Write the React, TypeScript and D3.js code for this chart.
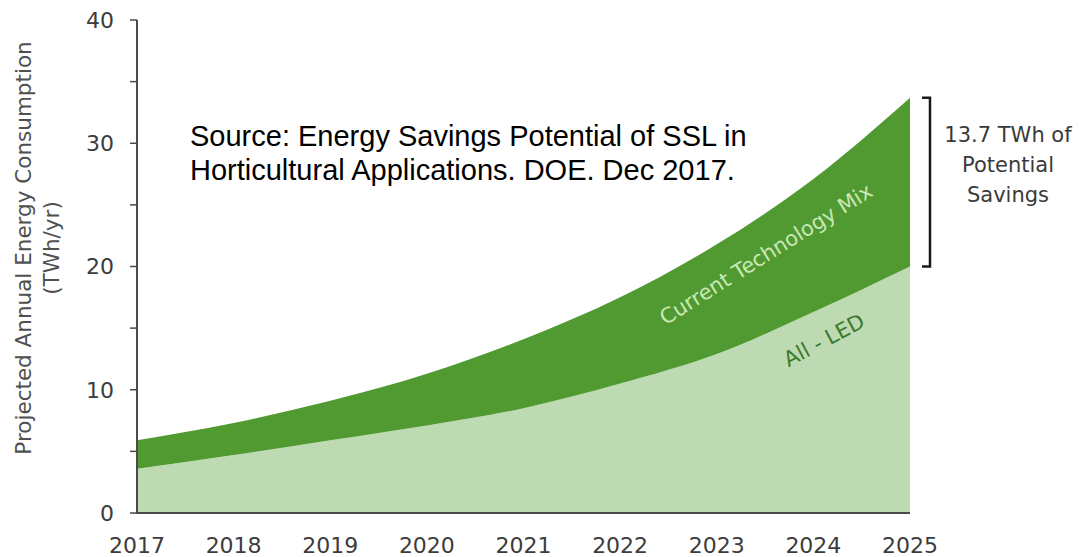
import React from 'react';
import * as d3 from 'd3';

// values (TWh/yr)
const years = [2017, 2018, 2019, 2020, 2021, 2022, 2023, 2024, 2025];
const currentMix = [5.9, 7.3, 9.1, 11.3, 14.1, 17.5, 21.8, 27.1, 33.7];
const allLed = [3.6, 4.7, 5.9, 7.1, 8.5, 10.5, 12.9, 16.3, 20.0];
const yTicks = [0, 10, 20, 30, 40];
const yMinorTicks = [5, 15, 25, 35];
const savingsLines = ['13.7 TWh of', 'Potential', 'Savings'];
const sourceLines = [
  'Source: Energy Savings Potential of SSL in',
  'Horticultural Applications. DOE. Dec 2017.',
];

const W = 1079;
const H = 557;
const tickFont = '"DejaVu Sans", sans-serif';

const App: React.FC = () => {
  const x = d3.scaleLinear().domain([2017, 2025]).range([137, 910]);
  const y = d3.scaleLinear().domain([0, 40]).range([513, 20]);

  const rows = years.map((yr, i) => ({ yr, top: currentMix[i], low: allLed[i] }));

  const ledArea = d3.area<typeof rows[0]>()
    .x(d => x(d.yr))
    .y0(y(0))
    .y1(d => y(d.low))
    .curve(d3.curveMonotoneX);

  const mixArea = d3.area<typeof rows[0]>()
    .x(d => x(d.yr))
    .y0(d => y(d.low))
    .y1(d => y(d.top))
    .curve(d3.curveMonotoneX);

  const last = rows[rows.length - 1];
  const bx = x(2025) + 20;

  return (
    <svg width={W} height={H} style={{ position: 'absolute', left: 0, top: 0, background: '#fff' }}>
      <path d={ledArea(rows) || ''} fill="#bddab3" />
      <path d={mixArea(rows) || ''} fill="#509a31" />

      {/* y axis */}
      <line x1={x(2017)} x2={x(2017)} y1={y(0)} y2={y(40)} stroke="#4a4a4a" strokeWidth={2} />
      {yTicks.concat(yMinorTicks).map(t => (
        <line key={'t' + t} x1={x(2017) - 7} x2={x(2017)} y1={y(t)} y2={y(t)} stroke="#4a4a4a" strokeWidth={1.5} />
      ))}
      {yTicks.map(t => (
        <text key={'l' + t} x={x(2017) - 23} y={y(t)} dy="0.36em" textAnchor="end"
          fontFamily={tickFont} fontSize={22} fill="#3c3c3c">{t}</text>
      ))}

      {/* x axis */}
      <line x1={x(2017) - 1} x2={x(2025)} y1={y(0)} y2={y(0)} stroke="#4a4a4a" strokeWidth={2} />
      {years.map(yr => (
        <text key={yr} x={x(yr)} y={553} textAnchor="middle"
          fontFamily={tickFont} fontSize={22} fill="#3c3c3c">{yr}</text>
      ))}

      {/* y axis title */}
      <g transform={`translate(31, 248) rotate(-90)`}>
        <text textAnchor="middle" fontFamily={tickFont} fontSize={21.5} fill="#505050">
          Projected Annual Energy Consumption
        </text>
        <text y={28} textAnchor="middle" fontFamily={tickFont} fontSize={21.5} fill="#505050">
          (TWh/yr)
        </text>
      </g>

      {/* in-band labels */}
      <text transform="translate(766, 254) rotate(-32)" textAnchor="middle" dy="0.35em"
        fontFamily={tickFont} fontSize={21} fill="#c9e8b6">Current Technology Mix</text>
      <text transform="translate(824, 340) rotate(-28)" textAnchor="middle" dy="0.35em"
        fontFamily={tickFont} fontSize={21} fill="#3a7a2a">All - LED</text>

      {/* savings bracket */}
      <path d={`M${bx - 8},${y(last.top)} H${bx} V${y(last.low)} H${bx - 8}`}
        fill="none" stroke="#1a1a1a" strokeWidth={2.5} />
      {savingsLines.map((s, i) => (
        <text key={s} x={1008} y={142 + i * 30} textAnchor="middle"
          fontFamily={tickFont} fontSize={21} fill="#3a3a3a">{s}</text>
      ))}

      {/* source note */}
      {sourceLines.map((s, i) => (
        <text key={s} x={190} y={146 + i * 34}
          fontFamily='"Liberation Sans", Arial, sans-serif' fontSize={29} fill="#000">{s}</text>
      ))}
    </svg>
  );
};

export default App;
